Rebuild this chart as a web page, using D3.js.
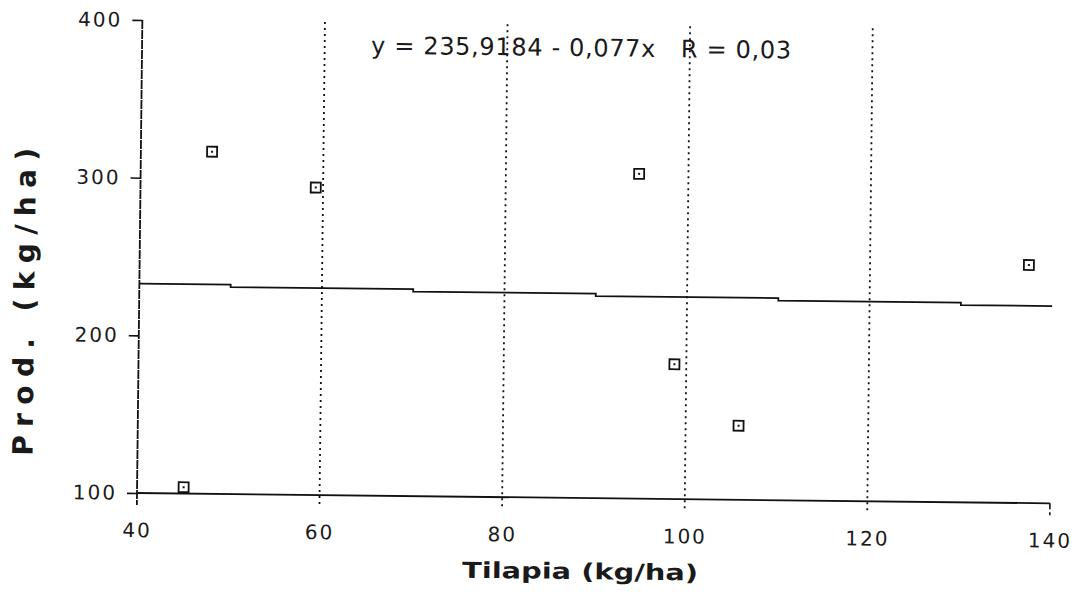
<!DOCTYPE html>
<head>
    <style>
        body { margin: 0; background: #fff; }
        text { font-family: "DejaVu Sans", sans-serif; fill: #1a1a1a; white-space: pre; }
    </style>
</head>
<body>
    <script src="https://d3js.org/d3.v7.min.js"></script>
    <script>
        const width = 1075;
        const height = 593;

        // values
        const tilapia = [45.1, 47.8, 59.2, 94.6, 98.7, 105.8, 137.4];
        const prod = [104, 317, 295, 306, 185.5, 147, 251];

        const xTicks = [40, 60, 80, 100, 120, 140];
        const yTicks = [100, 200, 300, 400];
        const gridX = [60, 80, 100, 120];

        // fit printed on the chart
        const intercept = 235.9184;
        const slope = -0.077;
        const fitText = "y = 235,9184 - 0,077x   R = 0,03";

        const svg = d3.select("body").append("svg")
            .attr("width", width).attr("height", height);
        svg.append("rect").attr("width", width).attr("height", height).attr("fill", "#fff");

        const x = d3.scaleLinear().domain([40, 140]).range([137, 1050]);
        const y = d3.scaleLinear().domain([100, 400]).range([493, 20]);

        // the scanned page is turned a little clockwise
        const g = svg.append("g").attr("transform", `rotate(0.65, ${x(40)}, ${y(100)})`);

        // dotted verticals
        g.selectAll("line.grid").data(gridX).enter().append("line")
            .attr("class", "grid")
            .attr("x1", d => x(d)).attr("x2", d => x(d))
            .attr("y1", y(400)).attr("y2", y(100) + 12)
            .attr("stroke", "#111").attr("stroke-width", 1.8)
            .attr("stroke-dasharray", "2,4");

        // y axis
        const yAxis = g.append("g").attr("transform", `translate(${x(40)},0)`)
            .call(d3.axisLeft(y).tickValues(yTicks).tickSize(10).tickPadding(10).tickFormat(d3.format("d")));
        yAxis.select(".domain").remove();
        yAxis.selectAll(".tick line").attr("stroke", "#111").attr("stroke-width", 1.6);
        yAxis.selectAll(".tick text").attr("font-size", 20).attr("letter-spacing", 2)
            .attr("font-family", "DejaVu Sans").attr("fill", "#333");
        g.append("line")
            .attr("x1", x(40)).attr("x2", x(40))
            .attr("y1", y(400)).attr("y2", y(100) + 12)
            .attr("stroke", "#111").attr("stroke-width", 1.8)
            .attr("stroke-dasharray", "9,1");

        // x axis
        const xAxis = g.append("g").attr("transform", `translate(0,${y(100)})`)
            .call(d3.axisBottom(x).tickValues(xTicks).tickSize(0).tickPadding(30).tickFormat(d3.format("d")));
        xAxis.select(".domain").remove();
        xAxis.selectAll(".tick text").attr("font-size", 20).attr("letter-spacing", 2)
            .attr("font-family", "DejaVu Sans").attr("fill", "#333");
        g.append("line")
            .attr("x1", x(40)).attr("x2", x(140))
            .attr("y1", y(100)).attr("y2", y(100))
            .attr("stroke", "#111").attr("stroke-width", 1.8);
        g.append("line")
            .attr("x1", x(140)).attr("x2", x(140))
            .attr("y1", y(100)).attr("y2", y(100) + 12)
            .attr("stroke", "#111").attr("stroke-width", 1.6)
            .attr("stroke-dasharray", "6,3");

        // regression line, printed in coarse steps
        const fitX = xTicks;
        const fitLine = d3.line().x(d => x(d)).y(d => y(intercept + slope * d)).curve(d3.curveStep);
        g.append("path").datum(fitX)
            .attr("d", fitLine)
            .attr("fill", "none").attr("stroke", "#111").attr("stroke-width", 1.8);

        // points
        const pts = tilapia.map((t, i) => [t, prod[i]]);
        const s = 10;
        const p = g.selectAll("g.pt").data(pts).enter().append("g").attr("class", "pt")
            .attr("transform", d => `translate(${x(d[0])},${y(d[1])})`);
        p.append("rect")
            .attr("x", -s / 2).attr("y", -s / 2).attr("width", s).attr("height", s)
            .attr("fill", "#fff").attr("stroke", "#111").attr("stroke-width", 1.8);
        p.append("rect")
            .attr("x", -1).attr("y", -1).attr("width", 2).attr("height", 2).attr("fill", "#111");

        // equation
        g.append("text")
            .attr("x", 366).attr("y", 51)
            .attr("font-size", 24).attr("fill", "#222")
            .attr("textLength", 420).attr("lengthAdjust", "spacing")
            .text(fitText);

        // axis titles
        g.append("text")
            .attr("x", 581).attr("y", 574)
            .attr("text-anchor", "middle")
            .attr("font-family", "DejaVu Sans Mono").attr("font-weight", "bold")
            .attr("font-size", 22)
            .attr("textLength", 236).attr("lengthAdjust", "spacingAndGlyphs")
            .text("Tilapia (kg/ha)");

        g.append("text")
            .attr("transform", "translate(32,303) rotate(-90)")
            .attr("text-anchor", "middle")
            .attr("font-family", "DejaVu Sans Mono").attr("font-weight", "bold")
            .attr("font-size", 28)
            .attr("textLength", 308).attr("lengthAdjust", "spacing")
            .text("Prod. (kg/ha)");
    </script>
</body>
</html>
